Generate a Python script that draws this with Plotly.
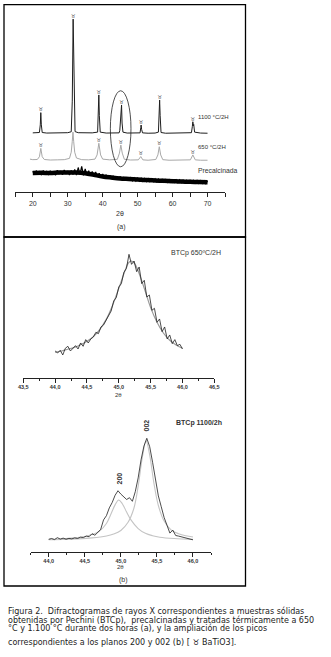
import plotly.graph_objects as go

W, H = 331, 657
def PX(px): return px / W
def PY(py): return 1 - py / H

# ---------------- DATA ----------------
# (a) full diffractograms, 2theta (deg) vs intensity (a.u.)
t1100 = [20.0, 21.0, 21.9, 22.15, 22.3, 22.45, 22.7, 24.0, 26.0, 28.0, 30.0, 31.0, 31.3, 31.55, 31.8, 32.1,
         33.0, 35.0, 37.0, 38.55, 38.75, 38.9, 39.05, 39.3, 41.0, 43.0, 44.7, 44.9, 45.0, 45.1, 45.25, 45.4,
         45.55, 45.8, 47.0, 49.0, 50.7, 50.9, 51.0, 51.15, 51.4, 53.0, 55.0, 55.95, 56.15, 56.3, 56.45, 56.7,
         58.0, 60.0, 62.0, 64.0, 65.4, 65.65, 65.8, 65.95, 66.05, 66.3, 68.0, 70.0]
i1100 = [32.6, 32.5, 32.8, 37.0, 43.7, 37.0, 32.8, 32.5, 32.6, 32.5, 32.7, 33.2, 50.0, 95.0, 50.0, 33.3,
         32.7, 32.5, 32.6, 33.0, 42.0, 53.4, 42.0, 33.0, 32.5, 32.4, 32.6, 34.0, 37.0, 35.0, 40.0, 47.9,
         38.0, 33.0, 32.5, 32.4, 32.6, 35.5, 36.9, 34.5, 32.6, 32.4, 32.5, 33.0, 42.0, 50.6, 42.0, 32.8,
         32.4, 32.5, 32.4, 32.5, 32.7, 36.0, 38.7, 36.5, 37.2, 33.0, 32.5, 32.4]

t650 = [19.2, 20.0, 21.3, 21.9, 22.3, 22.7, 23.3, 25.0, 27.0, 29.0, 30.5, 31.0, 31.3, 31.5, 31.7, 32.0,
        32.5, 34.0, 36.0, 37.8, 38.4, 38.9, 39.4, 40.0, 42.0, 44.2, 44.8, 45.2, 45.6, 46.2, 48.0, 50.2,
        50.9, 51.5, 53.0, 55.2, 55.8, 56.2, 56.6, 57.2, 59.0, 61.0, 63.0, 65.1, 65.8, 66.5, 68.0, 70.0]
i650 = [18.2, 17.9, 18.0, 19.5, 24.1, 19.5, 18.0, 17.7, 17.8, 17.9, 18.6, 22.0, 28.0, 33.0, 28.0, 22.0,
        18.8, 17.9, 17.8, 18.2, 20.5, 26.9, 20.5, 18.2, 17.8, 18.1, 21.5, 25.9, 21.5, 18.1, 17.7, 17.8,
        19.6, 17.8, 17.6, 18.0, 20.5, 25.0, 20.5, 17.9, 17.6, 17.6, 17.7, 17.8, 20.5, 17.8, 17.6, 17.6]

# precalcined sample: smoothed background trend and noisy signal (20.0..70.0 every 0.5 deg)
precal_trend_t = [20.0, 22.5, 25.0, 27.5, 30.0, 32.5, 35.0, 37.5, 40.0, 42.5, 45.0, 47.5, 50.0, 52.5,
                  55.0, 57.5, 60.0, 62.5, 65.0, 67.5, 70.0]
precal_trend_i = [10.6, 10.7, 10.6, 10.8, 10.8, 10.9, 10.5, 9.6, 8.7, 8.1, 7.6, 7.3, 7.0, 6.7,
                  6.5, 6.3, 6.1, 5.9, 5.8, 5.6, 5.5]
precal_start, precal_step = 20.0, 0.5
iprecal = [11.6, 9.6, 11.9, 9.9, 11.3, 9.4, 12.0, 10.1, 11.5, 9.5, 11.8,
           9.8, 11.4, 9.3, 12.1, 9.9, 11.6, 9.6, 12.2, 10.0, 11.7,
           9.5, 12.0, 9.7, 12.6, 9.4, 13.6, 9.8, 14.2, 9.3, 12.8,
           9.6, 11.8, 9.2, 11.4, 8.9, 11.1, 8.5, 10.5, 8.2, 10.0,
           7.9, 9.7, 7.5, 9.4, 7.3, 9.1, 7.0, 8.8, 6.9, 8.6,
           6.7, 8.4, 6.6, 8.3, 6.4, 8.0, 6.3, 7.9, 6.2, 7.8,
           6.1, 7.7, 6.0, 7.6, 5.9, 7.5, 5.9, 7.4, 5.8, 7.3,
           5.7, 7.2, 5.7, 7.1, 5.6, 7.0, 5.5, 7.0, 5.5, 6.9,
           5.4, 6.8, 5.3, 6.8, 5.3, 6.7, 5.2, 6.6, 5.1, 6.6,
           5.1, 6.5, 5.0, 6.5, 4.9, 6.4, 4.9, 6.3, 4.8, 6.3]

# BaTiO3 marked reflections (2theta, peak top intensity)
mk1100_t = [22.3, 31.55, 38.9, 45.4, 51.0, 56.3, 65.8]
mk1100_i = [43.7, 95.0, 53.4, 47.9, 36.9, 50.6, 38.7]
mk650_t = [22.3, 38.9, 45.2, 50.9, 56.2, 65.8]
mk650_i = [24.1, 26.9, 25.9, 19.6, 25.0, 20.5]

# (b) top: BTCp 650 C/2H, 2theta 44.00..46.00 every 0.04
b1_start, b1_step = 44.0, 0.04
b1_data = [20.5, 19.0, 21.0, 17.5, 22.5, 24.0, 20.5, 22.5, 24.5, 22.0, 26.5, 24.0, 29.0, 26.5, 29.5, 31.0,
           34.5, 33.5, 38.5, 40.0, 43.5, 48.0, 50.5, 58.0, 60.5, 68.5, 71.0, 79.5, 82.5, 93.0, 85.5, 88.0,
           80.0, 83.5, 71.0, 73.5, 61.0, 62.5, 51.0, 52.5, 42.0, 44.5, 35.0, 38.5, 29.5, 32.5, 26.0, 29.0,
           24.5, 25.5, 22.0]
b1_fit_t = [44.0, 44.1, 44.2, 44.3, 44.4, 44.5, 44.6, 44.7, 44.8, 44.9, 45.0, 45.1, 45.15, 45.2, 45.25,
            45.3, 45.4, 45.5, 45.6, 45.7, 45.8, 45.9, 46.0]
b1_fit_i = [19.5, 20.5, 21.8, 23.2, 25.2, 27.8, 31.3, 36.5, 44.0, 54.5, 67.5, 81.0, 86.5, 88.0, 86.0,
            81.0, 67.5, 53.0, 42.0, 34.0, 28.5, 25.0, 22.5]

# (b) bottom: BTCp 1100/2h, 2theta 44.00..46.00 every 0.04
b2_start, b2_step = 44.0, 0.04
b2_data = [10.8, 11.5, 10.6, 12.2, 11.0, 11.8, 10.9, 11.6, 11.2, 12.0, 11.5, 12.6, 12.3, 13.5, 13.0, 15.5,
           14.2, 17.0, 19.0, 27.0, 30.5, 37.0, 41.5, 47.5, 51.3, 48.5, 46.5, 44.0, 45.5, 42.5, 50.5, 62.0,
           77.0, 88.5, 95.0, 88.0, 75.0, 60.0, 47.0, 38.0, 29.0, 22.5, 16.0, 18.5, 14.0, 13.5, 12.8, 12.0,
           11.6, 11.2, 10.4]
c200_t = [44.0, 44.2, 44.4, 44.5, 44.6, 44.7, 44.8, 44.86, 44.92, 44.97, 45.02, 45.08, 45.14, 45.24, 45.34,
          45.44, 45.54, 45.74, 46.0]
c200_i = [10.8, 11.3, 12.3, 13.2, 14.8, 17.5, 24.0, 31.5, 39.5, 43.6, 40.5, 33.5, 27.0, 19.8, 15.8,
          13.8, 12.6, 11.5, 10.8]
c002_t = [44.0, 44.2, 44.4, 44.6, 44.8, 44.9, 45.0, 45.1, 45.18, 45.24, 45.3, 45.35, 45.4, 45.46, 45.52,
          45.6, 45.7, 45.8, 45.9, 46.0]
c002_i = [10.6, 10.8, 11.2, 12.0, 13.6, 15.2, 18.2, 25.0, 36.5, 55.0, 80.0, 93.0, 81.0, 57.0, 39.0,
          26.0, 18.5, 15.5, 13.8, 12.8]

ticks_a = [15, 20, 25, 30, 35, 40, 45, 50, 55, 60, 65, 70, 75]
ticks_a_txt = ['', '20', '', '30', '', '40', '', '50', '', '60', '', '70', '']
ticks_b1 = [43.5, 44.0, 44.5, 45.0, 45.5, 46.0, 46.5]
ticks_b1_txt = ['43,5', '44,0', '44,5', '45,0', '45,5', '46,0', '46,5']
minor_b1 = [43.75, 44.25, 44.75, 45.25, 45.75, 46.25]
ticks_b2 = [44.0, 44.5, 45.0, 45.5, 46.0]
ticks_b2_txt = ['44,0', '44,5', '45,0', '45,5', '46,0']
minor_b2 = [43.75, 44.25, 44.75, 45.25, 45.75, 46.25]

caption = ["Figura 2.  Difractogramas de rayos X correspondientes a muestras sólidas",
           "obtenidas por Pechini (BTCp),  precalcinadas y tratadas térmicamente a 650",
           "°C y 1.100 °C durante dos horas (a), y la ampliación de los picos",
           "correspondientes a los planos 200 y 002 (b) [ ♉ BaTiO3]."]

MARK = "♉"
# ---------------- FIGURE ----------------
fig = go.Figure()
BLK = "#1e1e1e"

fig.add_trace(go.Scatter(x=t650, y=i650, mode="lines", line=dict(color="#a8a8a8", width=1),
                         xaxis="x", yaxis="y", showlegend=False))
fig.add_trace(go.Scatter(x=t1100, y=i1100, mode="lines", line=dict(color=BLK, width=1),
                         xaxis="x", yaxis="y", showlegend=False))
fig.add_trace(go.Scatter(x=precal_trend_t, y=precal_trend_i, mode="lines",
                         line=dict(color="#000000", width=4.5, shape="spline"),
                         xaxis="x", yaxis="y", showlegend=False))
fig.add_trace(go.Scatter(y=iprecal, x0=precal_start, dx=precal_step, mode="lines",
                         line=dict(color="#000000", width=1.2), xaxis="x", yaxis="y", showlegend=False))
fig.add_trace(go.Scatter(x=mk1100_t, y=mk1100_i, mode="text", text=[MARK] * len(mk1100_t),
                         textposition="top center", textfont=dict(family="DejaVu Sans", size=5, color="#333"),
                         xaxis="x", yaxis="y", showlegend=False))
fig.add_trace(go.Scatter(x=mk650_t, y=mk650_i, mode="text", text=[MARK] * len(mk650_t),
                         textposition="top center", textfont=dict(family="DejaVu Sans", size=5, color="#333"),
                         xaxis="x", yaxis="y", showlegend=False))

fig.add_trace(go.Scatter(x=b1_fit_t, y=b1_fit_i, mode="lines", line=dict(color="#9a9a9a", width=1.2, shape="spline"),
                         xaxis="x2", yaxis="y2", showlegend=False))
fig.add_trace(go.Scatter(y=b1_data, x0=b1_start, dx=b1_step, mode="lines", line=dict(color=BLK, width=0.8),
                         xaxis="x2", yaxis="y2", showlegend=False))

fig.add_trace(go.Scatter(x=c200_t, y=c200_i, mode="lines", line=dict(color="#c4c4c4", width=1.1, shape="spline"),
                         xaxis="x3", yaxis="y3", showlegend=False))
fig.add_trace(go.Scatter(x=c002_t, y=c002_i, mode="lines", line=dict(color="#c4c4c4", width=1.1, shape="spline"),
                         xaxis="x3", yaxis="y3", showlegend=False))
fig.add_trace(go.Scatter(y=b2_data, x0=b2_start, dx=b2_step, mode="lines", line=dict(color=BLK, width=0.8),
                         xaxis="x3", yaxis="y3", showlegend=False))

axfont = dict(family="Liberation Sans", size=7, color="#333")
bfont = dict(family="Liberation Sans", size=5.5, color="#333", weight="bold")
common_x = dict(showline=True, linecolor="#222", linewidth=1, ticks="outside", tickcolor="#222",
                tickwidth=1, showgrid=False, zeroline=False, fixedrange=True)
common_y = dict(visible=False, range=[0, 100], fixedrange=True, showgrid=False, zeroline=False)

fig.update_layout(
    width=W, height=H, margin=dict(l=0, r=0, t=0, b=0),
    paper_bgcolor="white", plot_bgcolor="white", template="none", hovermode=False,
    font=dict(family="Liberation Sans", color="#333"),
    xaxis=dict(domain=[PX(15.3), PX(225)], range=[15, 75], anchor="y", tickvals=ticks_a,
               ticktext=ticks_a_txt, ticklen=4, tickfont=axfont, **common_x),
    yaxis=dict(domain=[PY(192.3), PY(10)], anchor="x", **common_y),
    xaxis2=dict(domain=[PX(23.3), PX(214.3)], range=[43.5, 46.5], anchor="y2", tickvals=ticks_b1,
                ticktext=ticks_b1_txt, ticklen=3.5, tickfont=bfont,
                minor=dict(tickvals=minor_b1, ticks="outside", ticklen=2, tickcolor="#222"), **common_x),
    yaxis2=dict(domain=[PY(378.3), PY(245)], anchor="x2", **common_y),
    xaxis3=dict(domain=[PX(30.7), PX(211)], range=[43.75, 46.25], anchor="y3", tickvals=ticks_b2,
                ticktext=ticks_b2_txt, ticklen=3.5, tickfont=bfont,
                minor=dict(tickvals=minor_b2, ticks="outside", ticklen=2, tickcolor="#222"), **common_x),
    yaxis3=dict(domain=[PY(552.3), PY(432.3)], anchor="x3", **common_y),
)

# panel frames and the ellipse around the 45 deg reflection
fig.add_shape(type="rect", xref="paper", yref="paper", x0=PX(4), x1=PX(245.5), y0=PY(237), y1=PY(4.7),
              line=dict(color="black", width=1.3))
fig.add_shape(type="rect", xref="paper", yref="paper", x0=PX(4), x1=PX(245.5), y0=PY(586), y1=PY(237),
              line=dict(color="black", width=1.3))
fig.add_shape(type="circle", xref="x", yref="y", x0=42.2, x1=48.1, y0=14.0, y1=55.7,
              line=dict(color="#222", width=0.8))

def ann(text, px, py, size=7, xanchor="center", bold=False, angle=0, family="Liberation Sans", color="#333"):
    fig.add_annotation(text=text, x=PX(px), y=PY(py), xref="paper", yref="paper", showarrow=False,
                       xanchor=xanchor, yanchor="middle", textangle=angle, borderpad=0,
                       font=dict(family=family, size=size, color=color, weight="bold" if bold else "normal"))

ann("1100 °C/2H", 197, 117.3, size=6, xanchor="left")
ann("650 °C/2H", 197, 146.7, size=6, xanchor="left")
ann("Precalcinada", 196.5, 171, size=6.8, xanchor="left")
ann("2θ", 120, 213.3, size=7)
ann("(a)", 121.7, 226.7, size=7)

ann("BTCp 650ºC/2H", 169.5, 252.7, size=7, xanchor="left")
ann("2θ", 118.3, 395, size=6)
ann("BTCp 1100/2h", 175, 423.3, size=7, xanchor="left", bold=True)
ann("200", 118.5, 479, size=7, bold=True, angle=-90)
ann("002", 146, 425.5, size=7, bold=True, angle=-90)
ann("2θ", 120.7, 566.7, size=6)
ann("(b)", 123.3, 580, size=7)

cap_y = [611, 619.5, 628, 642]
for line, yy in zip(caption, cap_y):
    ann(line, 6.5, yy, size=8.0, xanchor="left", family="DejaVu Sans", color="#222")

fig.write_html("out.html", config={"displayModeBar": False, "staticPlot": True},
               post_script="document.body.style.margin='0px';")
